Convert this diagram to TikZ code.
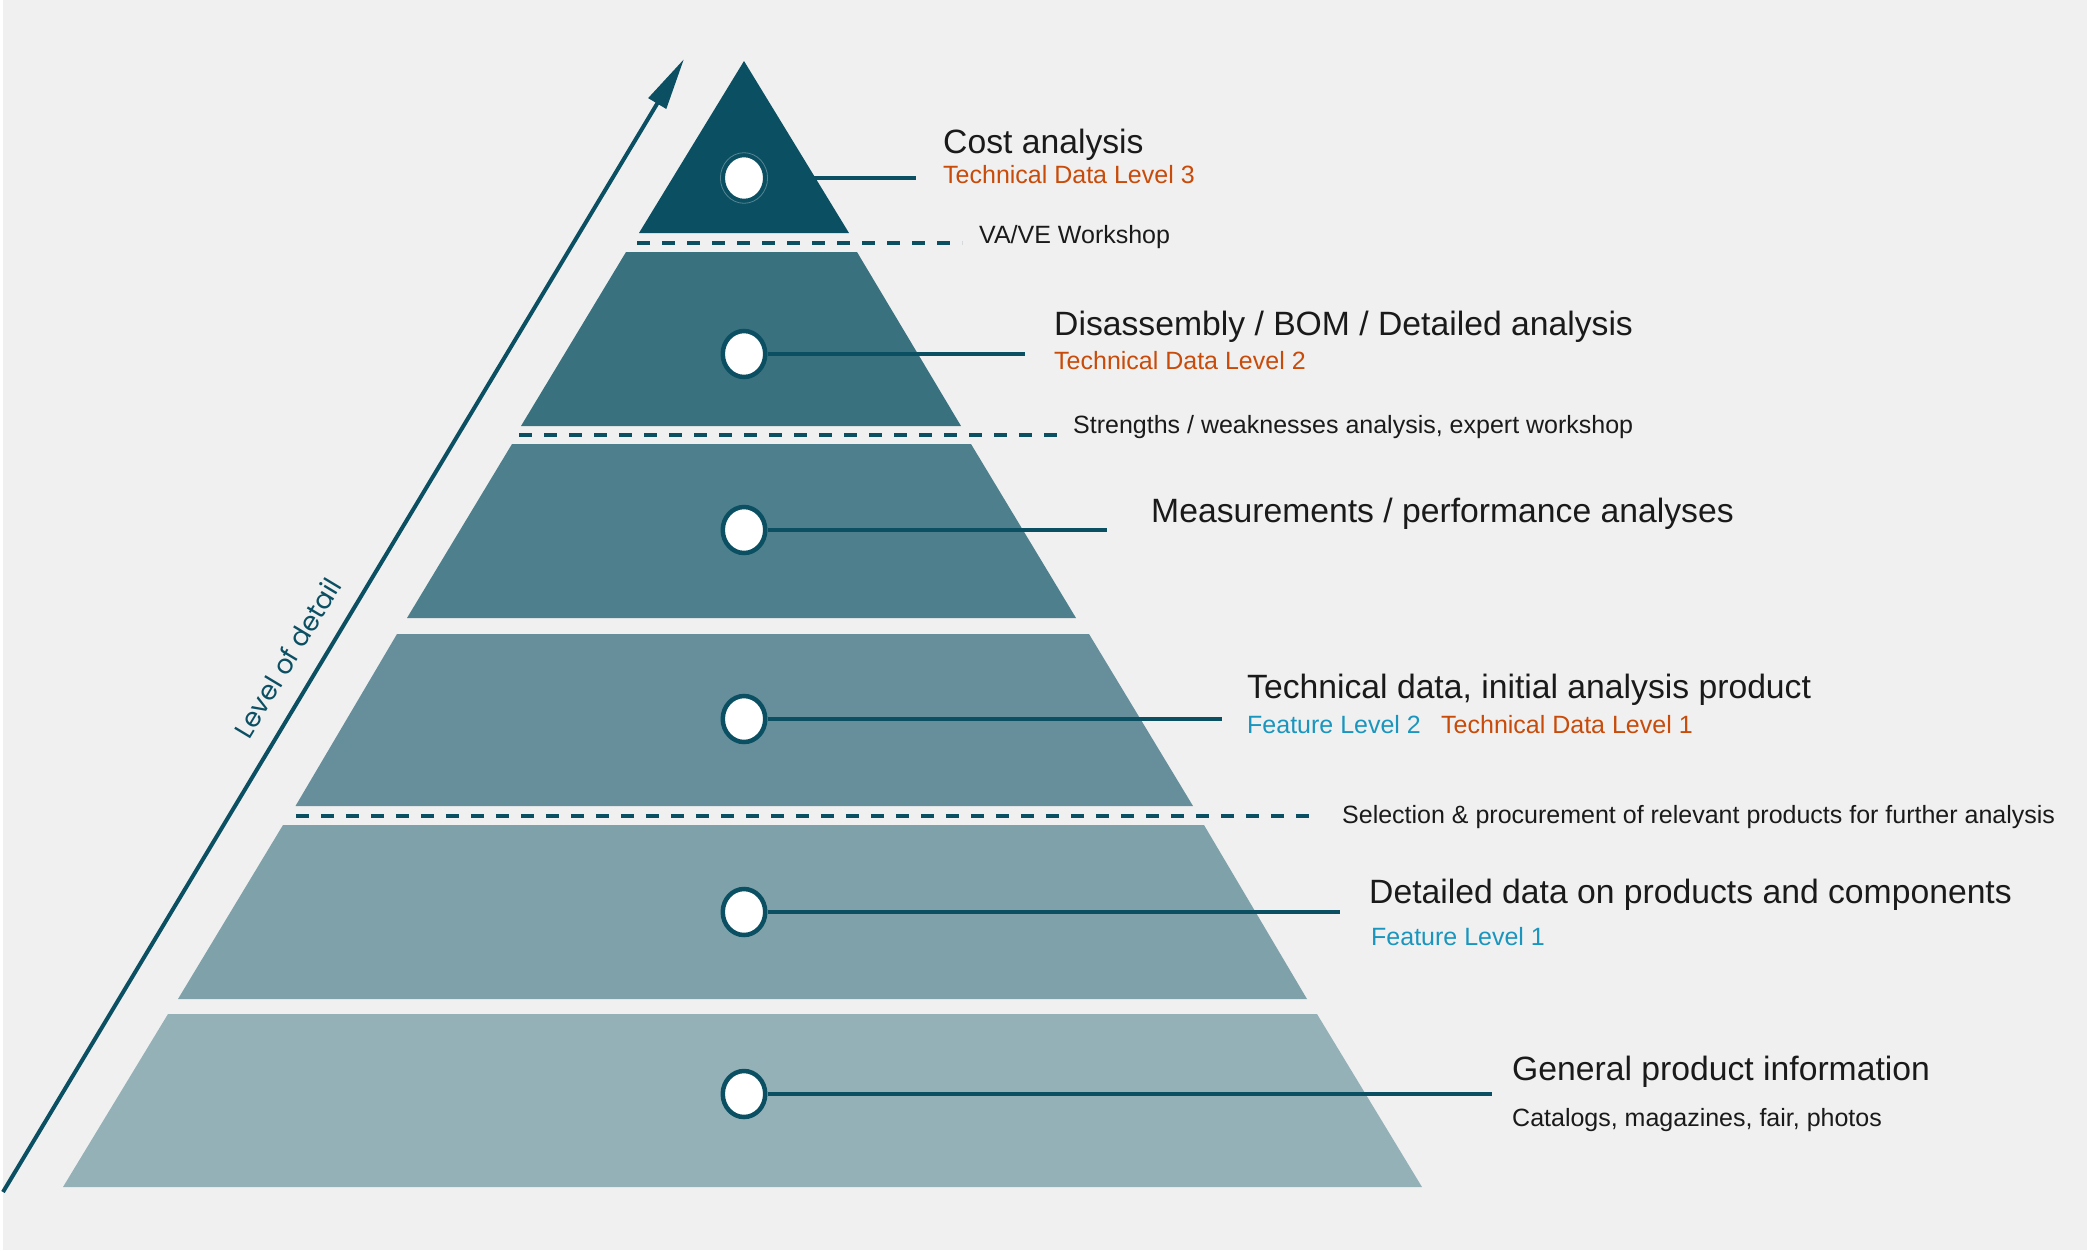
\documentclass[tikz,border=0pt]{standalone}
\usepackage{fontspec}
\setmainfont{Liberation Sans}
\newfontfamily\gothic{Poppins}
\usetikzlibrary{arrows.meta,shapes.geometric}
\definecolor{bg}{HTML}{F0F0F0}
\definecolor{dteal}{HTML}{0B4F63}
\definecolor{lay1}{HTML}{0B4F63}
\definecolor{lay2}{HTML}{3A717F}
\definecolor{lay3}{HTML}{4E7F8C}
\definecolor{lay4}{HTML}{668F9B}
\definecolor{lay5}{HTML}{7FA1AA}
\definecolor{lay6}{HTML}{95B1B8}
\definecolor{orng}{HTML}{C84B0A}
\definecolor{blu}{HTML}{1A96BE}
\definecolor{txt}{HTML}{1A1A1A}
\tikzset{
  bigtxt/.style={font=\fontsize{33.7}{40}\selectfont, text=txt, anchor=base west, inner sep=0pt},
  smalltxt/.style={font=\fontsize{25}{30}\selectfont, text=txt, anchor=base west, inner sep=0pt},
  orangetxt/.style={smalltxt, text=orng},
  bluetxt/.style={smalltxt, text=blu},
  sepline/.style={draw=dteal, line width=4pt, dash pattern=on 13pt off 12pt},
  leader/.style={draw=dteal, line width=4pt},
  dot/.style={ellipse, draw=dteal, fill=white, line width=4.5pt, minimum width=42.5pt, minimum height=46pt, inner sep=0pt},
}
\begin{document}
\begin{tikzpicture}[x=1pt,y=-1pt]
\fill[white] (0,0) rectangle (2087,1250);
\fill[bg] (3,0) rectangle (2087,1250);
\useasboundingbox (0,0) rectangle (2087,1250);
% pyramid layers
\fill[lay1] (744,61) -- (849,233) -- (639,233) -- cycle;
\fill[lay2] (626,252) -- (857,252) -- (961,426) -- (521,426) -- cycle;
\fill[lay3] (512,444) -- (971,444) -- (1076,618) -- (407,618) -- cycle;
\fill[lay4] (397,634) -- (1089,634) -- (1193,806) -- (295.5,806) -- cycle;
\fill[lay5] (283,825) -- (1204,825) -- (1307,999) -- (178,999) -- cycle;
\fill[lay6] (168,1014) -- (1317,1014) -- (1422,1187) -- (63,1187) -- cycle;
% separators
\draw[sepline] (637,243) -- (962,243);
\draw[sepline] (519,435) -- (1058,435);
\draw[sepline] (296,816) -- (1310,816);
% arrow
\coordinate (ab) at (3,1192);
\coordinate (at) at (684,59);
\draw[dteal, line width=4pt, -{Triangle[length=52pt,width=20pt]}] (ab) -- (at);
\node[text=dteal, font=\gothic\fontsize{26.5}{30}\selectfont, rotate=59, anchor=base, inner sep=0pt] (lod) at (296,663) {Level of detail};
% dots
\node[dot] (c1) at (744,178) {};
\draw[draw=white!30!lay1, line width=0.8pt] (c1) ellipse [x radius=23.6pt, y radius=25.3pt];
\node[dot] (c2) at (744,354) {};
\node[dot] (c3) at (744,530) {};
\node[dot] (c4) at (744,719) {};
\node[dot] (c5) at (744,912) {};
\node[dot] (c6) at (744,1094) {};
\coordinate (e1) at (916,178);
\coordinate (e2) at (1025,354);
\coordinate (e3) at (1107,530);
\coordinate (e4) at (1222,719);
\coordinate (e5) at (1340,912);
\coordinate (e6) at (1492,1094);
\draw[leader] (c1.east) -- (e1);
\draw[leader] (c2.east) -- (e2);
\draw[leader] (c3.east) -- (e3);
\draw[leader] (c4.east) -- (e4);
\draw[leader] (c5.east) -- (e5);
\draw[leader] (c6.east) -- (e6);
% texts
\node[bigtxt] (t1) at (943,153) {Cost analysis};
\node[orangetxt] (t1b) at (943,183) {Technical Data Level 3};
\node[smalltxt] (s1) at (979,243) {VA/VE Workshop};
\node[bigtxt] (t2) at (1054,335) {Disassembly / BOM / Detailed analysis};
\node[orangetxt] (t2b) at (1054,369) {Technical Data Level 2};
\node[smalltxt] (s2) at (1073,433) {Strengths / weaknesses analysis, expert workshop};
\node[bigtxt] (t3) at (1151,522) {Measurements / performance analyses};
\node[bigtxt] (t4) at (1247,698) {Technical data, initial analysis product};
\node[bluetxt] (t4b) at (1247,733) {Feature Level 2};
\node[orangetxt] (t4c) at (1441,733) {Technical Data Level 1};
\node[smalltxt] (s3) at (1342,823) {Selection \& procurement of relevant products for further analysis};
\node[bigtxt] (t5) at (1369,903) {Detailed data on products and components};
\node[bluetxt] (t5b) at (1371,945) {Feature Level 1};
\node[bigtxt] (t6) at (1512,1080) {General product information};
\node[smalltxt] (t6b) at (1512,1126) {Catalogs, magazines, fair, photos};
\end{tikzpicture}
\end{document}
